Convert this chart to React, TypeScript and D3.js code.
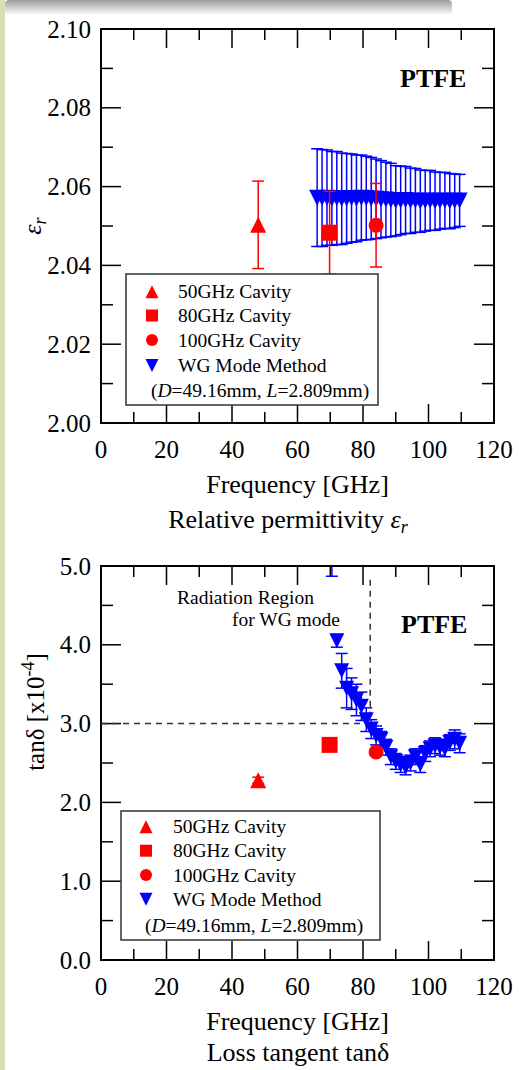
import React, { useEffect, useRef } from 'react';
import * as d3 from 'd3';

// x axis (frequency, GHz)
const freqTicks = [0, 20, 40, 60, 80, 100, 120];
const freqMinor = [10, 30, 50, 70, 90, 110];

// y axes
const epsTicks = [2.0, 2.02, 2.04, 2.06, 2.08, 2.1];
const epsMinor = [2.01, 2.03, 2.05, 2.07, 2.09];
const tanTicks = [0, 1, 2, 3, 4, 5];
const tanMinor = [0.5, 1.5, 2.5, 3.5, 4.5];

// WG mode method
const wgFreq = [66, 67.5, 69, 70.5, 72, 73.5, 75, 76.5, 78, 79.5, 81, 82.5, 84, 85.5, 87, 88.5, 90, 91.5, 93, 94.5, 96, 97.5, 99, 100.5, 102, 103.5, 105, 106.5, 108, 109.5];
const wgEps = [2.0572, 2.0571, 2.0572, 2.057, 2.0571, 2.0569, 2.057, 2.0571, 2.057, 2.0572, 2.0571, 2.057, 2.0569, 2.0568, 2.0567, 2.0566, 2.0564, 2.0565, 2.0566, 2.0564, 2.0565, 2.0563, 2.0564, 2.0565, 2.0563, 2.0564, 2.0565, 2.0563, 2.0564, 2.0565];
const wgEpsErr = [0.0124, 0.0123, 0.0121, 0.0119, 0.0118, 0.0116, 0.0114, 0.0112, 0.011, 0.0108, 0.0106, 0.0104, 0.0101, 0.0098, 0.0095, 0.0093, 0.0089, 0.0087, 0.0085, 0.0083, 0.0081, 0.0079, 0.0077, 0.0076, 0.0074, 0.0072, 0.0071, 0.007, 0.0068, 0.0066];
const wgTan = [7.2, 6.4, 5.7, 5.45, 4.05, 3.67, 3.45, 3.38, 3.3, 3.22, 3.05, 2.93, 2.85, 2.8, 2.7, 2.58, 2.52, 2.48, 2.45, 2.5, 2.58, 2.48, 2.62, 2.68, 2.72, 2.7, 2.68, 2.76, 2.8, 2.75];
const wgTanErr = [0.3, 0.3, 0.3, 0.58, 0.08, 0.22, 0.25, 0.2, 0.2, 0.18, 0.15, 0.12, 0.12, 0.1, 0.1, 0.1, 0.1, 0.1, 0.1, 0.1, 0.1, 0.1, 0.1, 0.1, 0.1, 0.1, 0.1, 0.1, 0.12, 0.12];

// cavity resonators
const cavityLabels = ['50GHz Cavity', '80GHz Cavity', '100GHz Cavity'];
const cavityFreq = [48, 69.8, 84];
const cavityEps = [2.0503, 2.0483, 2.0502];
const cavityEpsErr = [0.0111, 0.0105, 0.0106];
const cavityTan = [2.28, 2.73, 2.64];
const cavityTanErr = [0.04, 0, 0];

// radiation region boundary
const radFreq = 82.2;
const radTan = 3.0;
const radTop = 4.85;

const FONT = "'Liberation Serif', 'Times New Roman', serif";
const RED = '#ff0000';
const BLUE = '#0000ff';

const shapePath = (shape, cx, cy, s) => {
    if (shape === 'up') return `M${cx},${cy - s / 2}L${cx + s / 2},${cy + s / 2}L${cx - s / 2},${cy + s / 2}Z`;
    if (shape === 'down') return `M${cx - s / 2},${cy - s / 2}L${cx + s / 2},${cy - s / 2}L${cx},${cy + s / 2}Z`;
    if (shape === 'square') return `M${cx - s / 2},${cy - s / 2}h${s}v${s}h${-s}Z`;
    const r = s / 2;
    return `M${cx - r},${cy}a${r},${r} 0 1,0 ${2 * r},0a${r},${r} 0 1,0 ${-2 * r},0Z`;
};
const cavityShapes = ['up', 'square', 'circle'];

const App = () => {
    const ref = useRef(null);

    useEffect(() => {
        const svg = d3.select(ref.current);
        svg.selectAll('*').remove();

        const defs = svg.append('defs');
        const grad = defs.append('linearGradient').attr('id', 'shadow').attr('x1', 0).attr('y1', 0).attr('x2', 0).attr('y2', 1);
        grad.append('stop').attr('offset', '0%').attr('stop-color', '#9c9c9c');
        grad.append('stop').attr('offset', '100%').attr('stop-color', '#ffffff');

        svg.append('rect').attr('width', 519).attr('height', 1070).attr('fill', '#ffffff');
        svg.append('rect').attr('x', 5).attr('y', 0).attr('width', 447).attr('height', 15).attr('rx', 4).attr('fill', 'url(#shadow)');
        svg.append('rect').attr('x', 0).attr('y', 0).attr('width', 5).attr('height', 1070).attr('fill', '#dcdcb6');

        const x = d3.scaleLinear().domain([0, 120]).range([101, 494]);

        const panel = (top, yDomain, yTicks, yMinor, fmt, clipId) => {
            const bottom = top + 394;
            const y = d3.scaleLinear().domain(yDomain).range([bottom, top]);
            const g = svg.append('g');

            defs.append('clipPath').attr('id', clipId)
                .append('rect').attr('x', 101).attr('y', top).attr('width', 393).attr('height', 394);

            // inward ticks on all four sides
            const tk = g.append('g').attr('stroke', '#000').attr('stroke-width', 1.5);
            const xt = [...freqTicks.map(v => [v, 19]), ...freqMinor.map(v => [v, 11])];
            xt.forEach(([v, len]) => {
                tk.append('line').attr('x1', x(v)).attr('x2', x(v)).attr('y1', bottom).attr('y2', bottom - len);
                tk.append('line').attr('x1', x(v)).attr('x2', x(v)).attr('y1', top).attr('y2', top + len);
            });
            const yt = [...yTicks.map(v => [v, 20]), ...yMinor.map(v => [v, 12])];
            yt.forEach(([v, len]) => {
                tk.append('line').attr('x1', 101).attr('x2', 101 + len).attr('y1', y(v)).attr('y2', y(v));
                tk.append('line').attr('x1', 494).attr('x2', 494 - len).attr('y1', y(v)).attr('y2', y(v));
            });
            g.append('rect').attr('x', 101).attr('y', top).attr('width', 393).attr('height', 394)
                .attr('fill', 'none').attr('stroke', '#000').attr('stroke-width', 2);

            g.selectAll('.xl').data(freqTicks).enter().append('text')
                .attr('x', d => x(d)).attr('y', bottom + 35)
                .attr('text-anchor', 'middle').style('font-size', '25px').style('font-family', FONT)
                .text(d => d);
            g.selectAll('.yl').data(yTicks).enter().append('text')
                .attr('x', 91).attr('y', d => y(d) + 8.5)
                .attr('text-anchor', 'end').style('font-size', '25px').style('font-family', FONT)
                .text(d => fmt(d));

            g.append('text').attr('x', 297.5).attr('y', bottom + 70)
                .attr('text-anchor', 'middle').style('font-size', '26px').style('font-family', FONT)
                .text('Frequency [GHz]');

            return { y, g, bottom };
        };

        const errorBars = (g, xs, ys, es, y, color) => {
            xs.forEach((f, i) => {
                if (!es[i]) return;
                const cx = x(f);
                const lo = y(ys[i] - es[i]);
                const hi = y(ys[i] + es[i]);
                g.append('line').attr('x1', cx).attr('x2', cx).attr('y1', lo).attr('y2', hi)
                    .attr('stroke', color).attr('stroke-width', 1.5);
                [lo, hi].forEach(yy => g.append('line').attr('x1', cx - 6).attr('x2', cx + 6).attr('y1', yy).attr('y2', yy)
                    .attr('stroke', color).attr('stroke-width', 1.5));
            });
        };

        const legend = (bx, by, bw, bh, sx, tx, rows) => {
            const lg = svg.append('g');
            lg.append('rect').attr('x', bx).attr('y', by).attr('width', bw).attr('height', bh)
                .attr('fill', '#fff').attr('stroke', '#333').attr('stroke-width', 1.5);
            const items = [...cavityShapes.map((s, i) => [s, RED, cavityLabels[i]]), ['down', BLUE, 'WG Mode Method']];
            items.forEach(([s, c, label], i) => {
                const cy = rows[i];
                lg.append('path').attr('d', shapePath(s, sx, cy, s === 'up' || s === 'down' ? 13 : 12)).attr('fill', c);
                lg.append('text').attr('x', tx).attr('y', cy + 6.5)
                    .style('font-size', '19.5px').style('font-family', FONT).text(label);
            });
            const t = lg.append('text').attr('x', sx - 1).attr('y', rows[4] + 6.5)
                .style('font-size', '19.5px').style('font-family', FONT);
            t.append('tspan').text('(');
            t.append('tspan').style('font-style', 'italic').text('D');
            t.append('tspan').text('=49.16mm, ');
            t.append('tspan').style('font-style', 'italic').text('L');
            t.append('tspan').text('=2.809mm)');
        };

        // ---------- relative permittivity ----------
        const p1 = panel(29, [2.0, 2.1], epsTicks, epsMinor, d3.format('.2f'), 'clip1');
        const d1 = p1.g.append('g').attr('clip-path', 'url(#clip1)');
        errorBars(d1, wgFreq, wgEps, wgEpsErr, p1.y, BLUE);
        wgFreq.forEach((f, i) => d1.append('path').attr('d', shapePath('down', x(f), p1.y(wgEps[i]), 16)).attr('fill', BLUE));
        errorBars(d1, cavityFreq, cavityEps, cavityEpsErr, p1.y, RED);
        cavityFreq.forEach((f, i) => d1.append('path')
            .attr('d', shapePath(cavityShapes[i], x(f), p1.y(cavityEps[i]), cavityShapes[i] === 'circle' ? 15 : 16)).attr('fill', RED));

        p1.g.append('text').attr('x', 400).attr('y', 87)
            .style('font-size', '26px').style('font-weight', 'bold').style('font-family', FONT).text('PTFE');

        const ey = svg.append('text').attr('transform', 'translate(41,226) rotate(-90)')
            .attr('text-anchor', 'middle').style('font-size', '26px').style('font-family', FONT).style('font-style', 'italic');
        ey.append('tspan').text('ε');
        ey.append('tspan').attr('dy', 5).style('font-size', '18px').text('r');

        legend(126, 274, 252, 131, 152, 178, [291.7, 315.5, 340, 365.5, 390]);

        const c1 = svg.append('text').attr('x', 288).attr('y', 528)
            .attr('text-anchor', 'middle').style('font-size', '26px').style('font-family', FONT);
        c1.append('tspan').text('Relative permittivity ');
        c1.append('tspan').style('font-style', 'italic').text('ε');
        c1.append('tspan').attr('dy', 5).style('font-style', 'italic').style('font-size', '18px').text('r');

        // ---------- loss tangent ----------
        const p2 = panel(566, [0, 5], tanTicks, tanMinor, d3.format('.1f'), 'clip2');
        const d2 = p2.g.append('g').attr('clip-path', 'url(#clip2)');

        d2.append('path')
            .attr('d', `M${x(0)},${p2.y(radTan)}H${x(radFreq)}V${p2.y(radTop)}`)
            .attr('fill', 'none').attr('stroke', '#333').attr('stroke-width', 1.5).attr('stroke-dasharray', '6,5');

        errorBars(d2, wgFreq, wgTan, wgTanErr, p2.y, BLUE);
        wgFreq.forEach((f, i) => d2.append('path').attr('d', shapePath('down', x(f), p2.y(wgTan[i]), 15)).attr('fill', BLUE));
        errorBars(d2, cavityFreq, cavityTan, cavityTanErr, p2.y, RED);
        cavityFreq.forEach((f, i) => d2.append('path')
            .attr('d', shapePath(cavityShapes[i], x(f), p2.y(cavityTan[i]), cavityShapes[i] === 'circle' ? 15 : 16)).attr('fill', RED));

        p2.g.append('text').attr('x', 177).attr('y', 604)
            .style('font-size', '19.5px').style('font-family', FONT).text('Radiation Region');
        p2.g.append('text').attr('x', 232).attr('y', 626)
            .style('font-size', '19.5px').style('font-family', FONT).text('for WG mode');
        p2.g.append('text').attr('x', 401).attr('y', 633)
            .style('font-size', '26px').style('font-weight', 'bold').style('font-family', FONT).text('PTFE');

        const ty = svg.append('text').attr('transform', 'translate(44,712) rotate(-90)')
            .attr('text-anchor', 'middle').style('font-size', '25px').style('font-family', FONT);
        ty.append('tspan').text('tanδ [x10');
        ty.append('tspan').attr('dy', -10).style('font-size', '18px').text('-4');
        ty.append('tspan').attr('dy', 10).text(']');

        legend(121, 811, 259, 129, 146, 173, [826.7, 850.7, 875, 899.3, 925]);

        svg.append('text').attr('x', 298).attr('y', 1061)
            .attr('text-anchor', 'middle').style('font-size', '26px').style('font-family', FONT)
            .text('Loss tangent tanδ');
    }, []);

    return (
        <div style={{ position: 'absolute', left: 0, top: 0 }}>
            <svg ref={ref} width={519} height={1070} style={{ display: 'block' }} />
        </div>
    );
};

export default App;
